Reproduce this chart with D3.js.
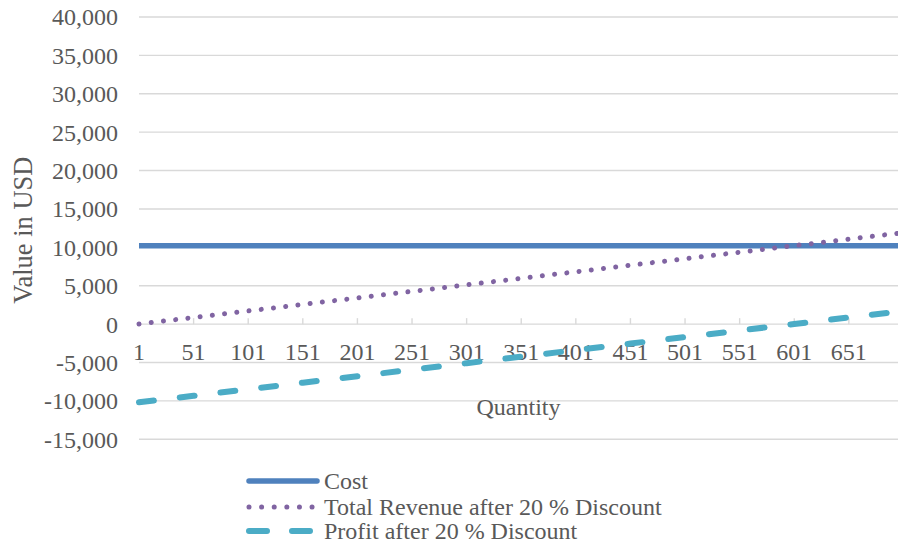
<!DOCTYPE html>
<html>
<head>
<meta charset="utf-8">
<script src="https://cdn.jsdelivr.net/npm/d3@7"></script>
<style>
  html, body { margin: 0; padding: 0; background: #fff; }
  svg text { font-family: "Liberation Serif", "Times New Roman", serif; fill: #595959; }
</style>
</head>
<body>
<svg id="chart" width="898" height="546"></svg>
<script>
// Quantities sampled along the category axis, with the matching values in USD
const quantities = [1, 51, 101, 151, 201, 251, 301, 351, 401, 451, 501, 551, 601, 651, 696];
const cost = [10200, 10200, 10200, 10200, 10200, 10200, 10200, 10200, 10200, 10200, 10200, 10200, 10200, 10200, 10200];
const revenue = [17, 867, 1717, 2567, 3417, 4267, 5117, 5967, 6817, 7667, 8517, 9367, 10217, 11067, 11832];
const profit = [-10183, -9333, -8483, -7633, -6783, -5933, -5083, -4233, -3383, -2533, -1683, -833, 17, 867, 1632];

const xTickLabels = [1, 51, 101, 151, 201, 251, 301, 351, 401, 451, 501, 551, 601, 651];
const yTicks = [-15000, -10000, -5000, 0, 5000, 10000, 15000, 20000, 25000, 30000, 35000, 40000];

const seriesNames = ["Cost", "Total Revenue after 20 % Discount", "Profit after 20 % Discount"];
const seriesColors = ["#4f81bd", "#8064a2", "#4bacc6"];

const svg = d3.select("#chart");
const plotLeft = 139, plotRight = 898, plotTop = 17, plotBottom = 439.3;
const fontSize = 24;

const x = d3.scaleLinear().domain([1, 696]).range([plotLeft, plotRight]);
const y = d3.scaleLinear().domain([-15000, 40000]).range([plotBottom, plotTop]);

// horizontal gridlines
svg.append("g")
  .selectAll("line")
  .data(yTicks)
  .join("line")
  .attr("x1", plotLeft).attr("x2", plotRight)
  .attr("y1", d => y(d)).attr("y2", d => y(d))
  .attr("stroke", "#d9d9d9").attr("stroke-width", 1.4);

// value axis labels (plain hyphen for negatives)
const fmt = d => d3.format(",")(d).replace("\u2212", "-");
svg.append("g")
  .selectAll("text")
  .data(yTicks)
  .join("text")
  .attr("x", 118)
  .attr("y", d => y(d))
  .attr("dy", "0.35em")
  .attr("text-anchor", "end")
  .attr("font-size", fontSize)
  .text(d => fmt(d));

// category axis tick marks (upward from the zero line) and labels
svg.append("g")
  .selectAll("line")
  .data(xTickLabels.slice(1))
  .join("line")
  .attr("x1", d => x(d)).attr("x2", d => x(d))
  .attr("y1", y(0) - 6).attr("y2", y(0))
  .attr("stroke", "#d9d9d9").attr("stroke-width", 1.4);

svg.append("g")
  .selectAll("text")
  .data(xTickLabels)
  .join("text")
  .attr("x", d => x(d))
  .attr("y", y(0) + 36)
  .attr("text-anchor", "middle")
  .attr("font-size", fontSize)
  .text(d => d);

// axis titles
svg.append("text")
  .attr("transform", `translate(32, ${(plotTop + plotBottom) / 2 + 2}) rotate(-90)`)
  .attr("text-anchor", "middle")
  .attr("font-size", 26.5)
  .text("Value in USD");

svg.append("text")
  .attr("x", (plotLeft + plotRight) / 2)
  .attr("y", 415)
  .attr("text-anchor", "middle")
  .attr("font-size", fontSize)
  .text("Quantity");

// series lines
const line = d3.line().x((d, i) => x(quantities[i])).y(d => y(d));
const series = [cost, revenue, profit];
const styles = [
  { width: 5.5, dash: null },
  { width: 5, dash: "0.01 12.3" },
  { width: 6, dash: "15 26" }
];

series.forEach((vals, k) => {
  const p = svg.append("path")
    .attr("d", line(vals))
    .attr("fill", "none")
    .attr("stroke", seriesColors[k])
    .attr("stroke-width", styles[k].width)
    .attr("stroke-linecap", k === 0 ? "butt" : "round");
  if (styles[k].dash) p.attr("stroke-dasharray", styles[k].dash);
});

// legend
const legendY = [481, 507, 531];
const legendDash = [null, "0.01 12.6", "18 25"];
const lg = svg.append("g");
seriesNames.forEach((name, k) => {
  const l = lg.append("line")
    .attr("x1", 249).attr("x2", 317)
    .attr("y1", legendY[k]).attr("y2", legendY[k])
    .attr("stroke", seriesColors[k])
    .attr("stroke-width", styles[k].width)
    .attr("stroke-linecap", "round");
  if (legendDash[k]) l.attr("stroke-dasharray", legendDash[k]);
  lg.append("text")
    .attr("x", 324)
    .attr("y", legendY[k])
    .attr("dy", "0.35em")
    .attr("font-size", fontSize)
    .text(name);
});
</script>
</body>
</html>
